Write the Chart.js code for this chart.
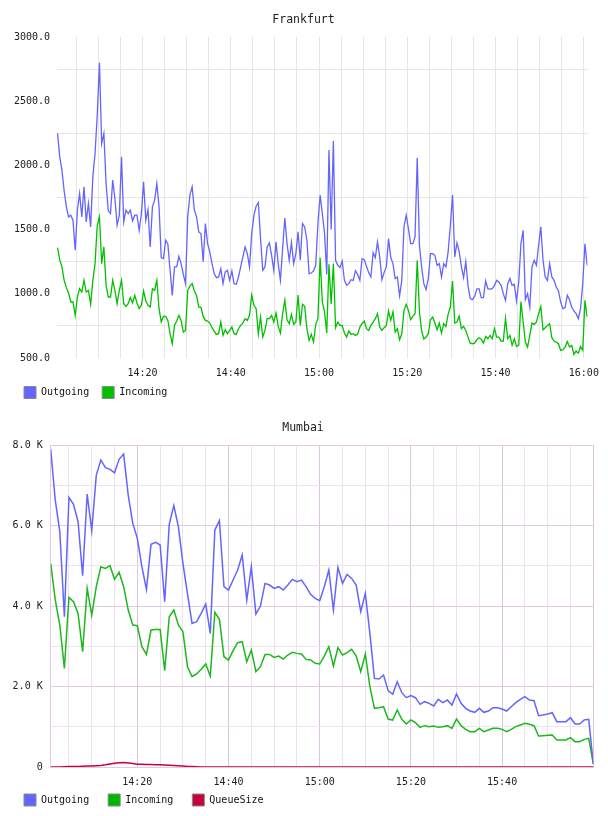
<!DOCTYPE html>
<html>
<head>
<meta charset="utf-8">
<title>Frankfurt / Mumbai</title>
<script src="https://cdn.jsdelivr.net/npm/chart.js@4.4.0/dist/chart.umd.min.js"></script>
<style>
  body { margin: 0; background: #fff; }
  canvas { display: block; }
</style>
</head>
<body>
<canvas id="frankfurt" width="608" height="409"></canvas>
<canvas id="mumbai" width="608" height="407"></canvas>
<script>
// times are minutes after 14:00
const frankfurtStart = 0.75;
const frankfurtStep = 0.5;

const frankfurtOutgoing = [
    2249, 2067, 1963, 1802, 1677, 1599, 1612, 1573, 1340, 1651,
    1781, 1599, 1833, 1560, 1703, 1521, 1911, 2093, 2392, 2800,
    2171, 2249, 1859, 1646, 1625, 1885, 1742, 1534, 1612, 2067,
    1560, 1651, 1625, 1651, 1568, 1612, 1612, 1495, 1625, 1872,
    1573, 1656, 1365, 1677, 1729, 1859, 1677, 1282, 1274, 1417,
    1386, 1183, 988, 1209, 1209, 1292, 1235, 1152, 1079, 1599,
    1770,
    1833, 1651, 1599, 1482, 1469, 1250, 1547, 1391, 1326, 1235,
    1157, 1126, 1131, 1196, 1079, 1170, 1183, 1105, 1178, 1079,
    1074, 1131, 1209, 1287, 1365, 1313, 1209, 1469, 1612, 1682,
    1710, 1430, 1183, 1209, 1365, 1396, 1300, 1183, 1404, 1235,
    1105, 1352, 1590, 1391, 1261, 1400, 1235, 1313, 1482, 1261,
    1547, 1521, 1417, 1157, 1162, 1178, 1222, 1547, 1768, 1625,
    1470, 1150, 2120, 1500, 2190, 1261, 1222, 1204, 1256, 1105,
    1066, 1079, 1110, 1105, 1180, 1150, 1105, 1274, 1266, 1214,
    1165, 1131, 1320, 1282, 1404, 1287, 1110, 1167, 1209, 1430,
    1282, 1235, 1118, 1131, 985, 1105, 1521, 1612, 1508, 1391,
    1391, 1443, 2060, 1378, 1204, 1079, 1032, 1118, 1313, 1313,
    1300, 1222, 1235, 1131, 1235, 1209, 1326, 1534, 1770, 1287,
    1396,
    1330, 1214, 1126, 1250, 1066, 962, 954, 980, 1037, 1040,
    970, 970, 1100, 1040, 1037, 1040, 1066, 1105, 1092, 1066,
    1001, 949, 1079, 1120, 1066, 1074, 944, 1092, 1391, 1495,
    954, 1001, 897, 1209, 1261, 1222, 1378, 1521, 1261, 1131,
    1105, 1235, 1131, 1105, 1053, 1022, 936, 884, 892, 988,
    954, 897, 866, 845, 806, 884, 1079, 1390, 1222
];

const frankfurtIncoming = [
    1360, 1266, 1209, 1105, 1048, 1006, 936, 936, 832, 975,
    1040, 1014, 1105, 1014, 1027, 918, 1105, 1235, 1534, 1600,
    1235, 1365, 1066, 975, 975, 1105, 1027, 923, 1027, 1105,
    923, 902, 923, 970, 928, 988, 928, 884, 910, 1022,
    944, 910, 897, 1040, 1027, 1105, 884, 780, 824, 824,
    793, 689, 611, 754, 788, 832, 793, 702, 715, 1027,
    1060,
    1079, 1022, 988, 897, 897, 824, 793, 788, 772, 736,
    710, 684, 689, 780, 676, 720, 689, 715, 741, 689,
    684, 728, 754, 772, 806, 793, 832, 990, 910, 884,
    689, 819, 663, 715, 806, 806, 832, 780, 850, 746,
    694, 845, 950, 798, 767, 840, 762, 780, 990, 754,
    918, 902, 728, 637, 684, 624, 762, 806, 1280, 936,
    860, 694, 1230, 918, 1235, 736, 780, 754, 754, 694,
    663, 710, 684, 689, 676, 684, 741, 767, 788, 728,
    715, 754, 780, 806, 845, 741, 715, 736, 754, 866,
    793, 860, 702, 728, 642, 689, 871, 918, 871, 798,
    824, 845, 1260, 858, 710, 647, 663, 689, 798, 819,
    772, 720, 772, 694, 767, 746, 840, 897, 1100, 772,
    780,
    825, 728, 746, 715, 663, 616, 611, 616, 642, 658,
    647, 616, 668, 650, 676, 650, 730, 663, 663, 632,
    632, 810, 650, 676, 598, 650, 590, 598, 940, 780,
    624, 585, 676, 772, 762, 780, 845, 900, 720, 736,
    754, 767, 658, 632, 624, 611, 559, 564, 585, 629,
    585, 598, 528, 554, 538, 590, 560, 950, 819
];

const frankfurtLabelMinutes = [20, 40, 60, 80, 100, 120];

const mumbaiStart = 1;
const mumbaiStep = 1;

const mumbaiOutgoing = [
    7891, 6632, 5846, 3734, 6699, 6525, 6094, 4753, 6781, 5871,
    7253, 7626, 7436, 7394, 7311, 7643, 7775, 6757, 6053, 5680,
    4976, 4413, 5531, 5581, 5515, 4107, 6028, 6492, 5970, 5059,
    4300, 3568, 3610, 3817, 4049, 3320, 5887, 6119, 4480, 4397,
    4645, 4894, 5266, 4148, 4976, 3800, 4000, 4562, 4521, 4438,
    4480, 4397, 4521, 4662, 4604, 4645, 4480, 4290, 4190, 4132,
    4480, 4894, 3900, 4960, 4562, 4786, 4686, 4521, 3858, 4314,
    3320, 2202, 2186, 2285, 1896, 1805, 2119, 1846, 1722, 1772,
    1722, 1556, 1623, 1581, 1515, 1681, 1598, 1664, 1540, 1813,
    1581, 1457, 1391, 1358, 1457, 1358, 1391, 1474, 1474, 1441,
    1391, 1498, 1598, 1681, 1747, 1664, 1648, 1275, 1292, 1316,
    1349, 1126, 1126, 1126, 1225, 1068, 1068, 1167, 1184, 74
];

const mumbaiIncoming = [
    5059, 4150, 3527, 2451, 4215, 4107, 3817, 2865, 4438, 3775,
    4480, 4976, 4935, 5001, 4662, 4836, 4480, 3900, 3527, 3510,
    2989, 2798, 3403, 3419, 3419, 2393, 3734, 3900, 3527, 3361,
    2492, 2244, 2310, 2426, 2558, 2260, 3842, 3668, 2740, 2658,
    2890, 3088, 3113, 2616, 2906, 2368, 2492, 2798, 2798, 2724,
    2757, 2682, 2782, 2848, 2823, 2807, 2674, 2658, 2575, 2558,
    2757, 2989, 2509, 2964, 2782, 2840, 2923, 2757, 2368, 2807,
    1995, 1457, 1474, 1498, 1192, 1167, 1416, 1184, 1068, 1167,
    1101, 985, 1027, 1002, 1018, 985, 1002, 1027, 960, 1192,
    1027, 935, 877, 877, 960, 877, 919, 960, 960, 935,
    877, 935, 1002, 1043, 1084, 1060, 1027, 770, 778, 786,
    795, 670, 670, 670, 728, 629, 629, 687, 712, 74
];

const mumbaiQueueSize = [
    0, 0, 0, 5, 10, 12, 15, 18, 22, 25,
    32, 40, 55, 75, 95, 105, 110, 100, 85, 70,
    68, 65, 62, 58, 55, 50, 42, 35, 28, 22,
    15, 10, 5, 2, 0, 0, 0, 0, 0, 0,
    0, 0, 0, 0, 0, 0, 0, 0, 0, 0,
    0, 0, 0, 0, 0, 0, 0, 0, 0, 0,
    0, 0, 0, 0, 0, 0, 0, 0, 0, 0,
    0, 0, 0, 0, 0, 0, 0, 0, 0, 0,
    0, 0, 0, 0, 0, 0, 0, 0, 0, 0,
    0, 0, 0, 0, 0, 0, 0, 0, 0, 0,
    0, 0, 0, 0, 0, 0, 0, 0, 0, 0,
    0, 0, 0, 0, 0, 0, 0, 0, 0, 0
];

const mumbaiLabelMinutes = [20, 40, 60, 80, 100];

Chart.defaults.font.family = '"DejaVu Sans Mono", monospace';
Chart.defaults.font.size = 10;
Chart.defaults.color = '#222';

function timeSeries(values, start, step) {
    return values.map((v, i) => ({ x: start + i * step, y: v }));
}

function clockLabel(minutes) {
    const h = 14 + Math.floor(minutes / 60);
    const m = minutes % 60;
    return h + ':' + String(m).padStart(2, '0');
}

function range(from, to, step) {
    const out = [];
    for (let v = from; v <= to; v += step) out.push(v);
    return out;
}

function legendItems(chart) {
    const items = Chart.defaults.plugins.legend.labels.generateLabels(chart);
    items.forEach(item => {
        item.strokeStyle = '#8a8a8a';
        item.lineWidth = 1;
    });
    return items;
}

// legend row gets a fixed height and position, independent of the plot box
const legendPlace = {
    id: 'legendPlace',
    beforeLayout(chart, args, opts) {
        const legend = chart.legend;
        if (legend && !legend._fixedFit) {
            const fit = legend.fit;
            legend.fit = function() {
                fit.call(this);
                this.height = opts.height;
            };
            legend._fixedFit = true;
        }
    },
    afterLayout(chart, args, opts) {
        if (!chart.legend) return;
        chart.legend.left = opts.left;
        chart.legend.top = opts.top;
    }
};

function titleOptions(text, top, bottom) {
    return {
        display: true,
        text: text,
        color: '#222',
        font: { size: 11.5, weight: 'normal' },
        padding: { top: top, bottom: bottom }
    };
}

function legendOptions(padding) {
    return {
        display: true,
        position: 'bottom',
        align: 'start',
        labels: {
            color: '#111',
            boxWidth: 12,
            boxHeight: 12,
            padding: padding,
            font: { size: 10 },
            generateLabels: legendItems
        }
    };
}

const frankfurtGrid = range(5, 120, 5);
const frankfurtYTicks = range(500, 3000, 250);

new Chart(document.getElementById('frankfurt'), {
    type: 'line',
    data: {
        datasets: [
            {
                label: 'Outgoing',
                data: timeSeries(frankfurtOutgoing, frankfurtStart, frankfurtStep),
                borderColor: '#6464ff',
                backgroundColor: '#6464ff',
                borderWidth: 1.3
            },
            {
                label: 'Incoming',
                data: timeSeries(frankfurtIncoming, frankfurtStart, frankfurtStep),
                borderColor: '#00c000',
                backgroundColor: '#00c000',
                borderWidth: 1.3
            }
        ]
    },
    options: {
        responsive: false,
        animation: false,
        layout: { padding: { left: 14, right: 15, top: 0, bottom: 0 } },
        elements: { point: { radius: 0 }, line: { tension: 0 } },
        scales: {
            x: {
                type: 'linear',
                min: 0.63,
                max: 120.83,
                afterBuildTicks: s => { s.ticks = frankfurtGrid.map(v => ({ value: v })); },
                afterFit: s => { s.height = 29; },
                grid: { color: '#e6e6e6', drawTicks: false },
                border: { display: false },
                ticks: {
                    autoSkip: false,
                    maxRotation: 0,
                    padding: 9,
                    callback: v => frankfurtLabelMinutes.includes(v) ? clockLabel(v) : ''
                }
            },
            y: {
                min: 500,
                max: 3000,
                afterBuildTicks: s => { s.ticks = frankfurtYTicks.map(v => ({ value: v })); },
                afterFit: s => { s.width = 43; },
                grid: {
                    drawTicks: false,
                    color: ctx => ctx.tick.value % 500 === 0 ? 'rgba(0,0,0,0)' : '#e6e6e6'
                },
                border: { display: false },
                ticks: {
                    padding: 7,
                    callback: v => v % 500 === 0 ? v.toFixed(1) : ''
                }
            }
        },
        plugins: {
            title: titleOptions('Frankfurt', 13.6, 9.6),
            legend: legendOptions(13),
            legendPlace: { left: 11, top: 373.5, height: 22 },
            tooltip: { enabled: false }
        }
    },
    plugins: [legendPlace]
});

const mumbaiGrid = range(5, 120, 5);
const mumbaiYTicks = range(0, 8000, 1000);

new Chart(document.getElementById('mumbai'), {
    type: 'line',
    data: {
        datasets: [
            {
                label: 'Outgoing',
                data: timeSeries(mumbaiOutgoing, mumbaiStart, mumbaiStep),
                borderColor: '#6464ff',
                backgroundColor: '#6464ff',
                borderWidth: 1.5
            },
            {
                label: 'Incoming',
                data: timeSeries(mumbaiIncoming, mumbaiStart, mumbaiStep),
                borderColor: '#1cb81c',
                backgroundColor: '#00b400',
                borderWidth: 1.5
            },
            {
                label: 'QueueSize',
                data: timeSeries(mumbaiQueueSize, mumbaiStart, mumbaiStep),
                borderColor: '#cc0033',
                backgroundColor: '#c8003c',
                borderWidth: 1.5
            }
        ]
    },
    options: {
        responsive: false,
        animation: false,
        layout: { padding: { left: 12.7, right: 14.7, top: 0, bottom: 0 } },
        elements: { point: { radius: 0 }, line: { tension: 0 } },
        scales: {
            x: {
                type: 'linear',
                min: 1,
                max: 120,
                afterBuildTicks: s => { s.ticks = mumbaiGrid.map(v => ({ value: v })); },
                afterFit: s => { s.height = 27; },
                grid: {
                    drawTicks: false,
                    color: ctx => ctx.tick.value % 20 === 0 ? '#dcc3de' : '#eee2ef'
                },
                border: { display: true, color: '#e2cbe2' },
                ticks: {
                    autoSkip: false,
                    maxRotation: 0,
                    padding: 9,
                    callback: v => mumbaiLabelMinutes.includes(v) ? clockLabel(v) : ''
                }
            },
            y: {
                min: 0,
                max: 8000,
                afterBuildTicks: s => { s.ticks = mumbaiYTicks.map(v => ({ value: v })); },
                afterFit: s => { s.width = 38; },
                grid: {
                    drawTicks: false,
                    color: ctx => ctx.tick.value % 2000 === 0 ? '#e2cbe2' : '#efe3ef'
                },
                border: { display: true, color: '#e2cbe2' },
                ticks: {
                    padding: 8,
                    callback: v => v === 0 ? '0' : (v % 2000 === 0 ? (v / 1000).toFixed(1) + ' K' : '')
                }
            }
        },
        plugins: {
            title: titleOptions('Mumbai', 12.1, 10.1),
            legend: legendOptions(19),
            legendPlace: { left: 5, top: 366, height: 22 },
            tooltip: { enabled: false }
        }
    },
    plugins: [legendPlace]
});
</script>
</body>
</html>
